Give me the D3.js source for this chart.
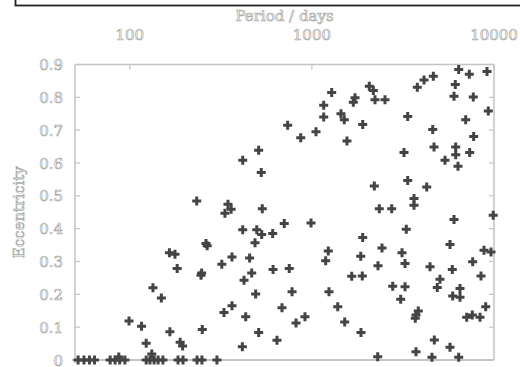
<!DOCTYPE html>
<html>
<head>
<meta charset="utf-8">
<script src="https://cdn.jsdelivr.net/npm/d3@7"></script>
<style>
  html, body { margin: 0; padding: 0; background: #fff; }
  svg { display: block; }
  .lbl { font-family: "DejaVu Serif", serif; font-size: 15px; fill: #fff; stroke: #a9a9a9; stroke-width: 0.7px; }
</style>
</head>
<body>
<script>
// Orbital period (days) and eccentricity of each plotted object
const period = [
  52, 56, 60, 64, 78, 83, 88, 94, 87, 123, 129, 136, 143, 152, 132, 184, 196, 234, 249, 301,
  233, 346, 360, 333, 534, 417, 510, 527, 736, 868, 1053, 1284, 1161, 1161, 1444, 1506, 1558,
  1725, 1688, 1901, 2066, 2174, 2221, 2520, 3358, 3205, 2202, 3358, 4271, 3636, 3636, 2345, 2743,
  3791, 4128, 4643, 4608, 4684, 5381, 6031, 6130, 6400, 7316, 7694, 6161, 6161, 6343, 7353, 6990,
  7733, 9154, 9304,
  705, 989, 417, 498, 530, 609, 487, 165, 177, 262, 266, 182, 248, 246, 320, 364, 455, 467, 424,
  612, 751, 134, 149, 491, 778, 329, 364, 433, 685, 818, 916, 99, 116, 166, 250, 510, 123, 189,
  195, 643, 415,
  3299, 6031, 9900, 1901, 1230, 1190, 1854, 2426, 3125, 3246, 2307, 5733, 8813, 9627, 7638, 4453,
  5902, 8484, 1654, 1891, 5051, 4881, 2778, 3246, 3073, 1241, 6505, 5932, 6505, 1386, 1514, 1860,
  3839, 3729, 3696, 9003, 7600, 7080, 8378, 4702, 5733, 3729, 2298, 4565, 6400
];
const eccentricity = [
  0, 0, 0, 0, 0, 0, 0, 0, 0.009, 0, 0, 0, 0, 0, 0.018, 0, 0, 0, 0, 0,
  0.484, 0.474, 0.459, 0.447, 0.461, 0.608, 0.639, 0.571, 0.715, 0.677, 0.695, 0.815, 0.776, 0.740, 0.750, 0.732, 0.667,
  0.799, 0.785, 0.717, 0.834, 0.821, 0.793, 0.793, 0.742, 0.632, 0.530, 0.547, 0.527, 0.492, 0.471, 0.461, 0.461,
  0.831, 0.853, 0.864, 0.702, 0.649, 0.608, 0.803, 0.839, 0.885, 0.870, 0.801, 0.649, 0.625, 0.590, 0.632, 0.732,
  0.681, 0.879, 0.758,
  0.416, 0.417, 0.397, 0.397, 0.382, 0.385, 0.357, 0.327, 0.322, 0.355, 0.348, 0.279, 0.265, 0.258, 0.292, 0.314, 0.311, 0.265, 0.243,
  0.276, 0.279, 0.220, 0.189, 0.201, 0.208, 0.145, 0.165, 0.132, 0.159, 0.113, 0.132, 0.119, 0.103, 0.086, 0.093, 0.084, 0.051, 0.054,
  0.043, 0.060, 0.040,
  0.398, 0.428, 0.441, 0.373, 0.332, 0.302, 0.316, 0.341, 0.327, 0.294, 0.287, 0.352, 0.334, 0.329, 0.299, 0.284,
  0.276, 0.256, 0.255, 0.256, 0.246, 0.221, 0.225, 0.223, 0.185, 0.208, 0.218, 0.195, 0.191, 0.162, 0.116, 0.084,
  0.149, 0.137, 0.127, 0.162, 0.137, 0.130, 0.130, 0.061, 0.039, 0.025, 0.010, 0.008, 0.008
];
const xTickValues = [100, 1000, 10000];
const xTickLabels = ["100", "1000", "10000"];
const yTickValues = [0, 0.1, 0.2, 0.3, 0.4, 0.5, 0.6, 0.7, 0.8, 0.9];
const yTickLabels = ["0", "0.1", "0.2", "0.3", "0.4", "0.5", "0.6", "0.7", "0.8", "0.9"];
const xTitle = "Period / days";
const yTitle = "Eccentricity";

(function () {
const W = 520, H = 367;
const pL = 75, pR = 494, pT = 64.5, pB = 360;

const svg = d3.select("body").append("svg").attr("width", W).attr("height", H);

const x = d3.scaleLog().domain([50, 10000]).range([pL, pR]);
const y = d3.scaleLinear().domain([0, 0.9]).range([pB, pT]);

// clipped box at the very top
svg.append("rect").attr("x", 15.5).attr("y", -30).attr("width", 700).attr("height", 35.5)
  .attr("fill", "none").attr("stroke", "#222").attr("stroke-width", 1.8);

const axisColor = "#c4c4c4";
// frame
svg.append("line").attr("x1", pL).attr("x2", pL).attr("y1", pT).attr("y2", pB + 3)
  .attr("stroke", axisColor).attr("stroke-width", 1.5);
svg.append("line").attr("x1", pR).attr("x2", pR).attr("y1", pT).attr("y2", pB)
  .attr("stroke", axisColor).attr("stroke-width", 1.5);
svg.append("line").attr("x1", pL).attr("x2", pR).attr("y1", pT).attr("y2", pT)
  .attr("stroke", axisColor).attr("stroke-width", 1.5);
svg.append("line").attr("x1", pL - 3).attr("x2", pR).attr("y1", pB).attr("y2", pB)
  .attr("stroke", axisColor).attr("stroke-width", 2);

// y ticks (inward, both sides)
yTickValues.forEach(v => {
  svg.append("line").attr("x1", pL).attr("x2", pL + 5).attr("y1", y(v)).attr("y2", y(v))
    .attr("stroke", axisColor).attr("stroke-width", 1.2);
  svg.append("line").attr("x1", pR).attr("x2", pR - 5).attr("y1", y(v)).attr("y2", y(v))
    .attr("stroke", axisColor).attr("stroke-width", 1.2);
});
// x ticks at top (inward)
xTickValues.forEach(v => {
  svg.append("line").attr("x1", x(v)).attr("x2", x(v)).attr("y1", pT).attr("y2", pT + 5)
    .attr("stroke", axisColor).attr("stroke-width", 1.2);
});

// tick labels
svg.selectAll(".ylab").data(yTickValues).enter().append("text")
  .attr("class", "lbl").attr("x", 63).attr("y", d => y(d) + 5.5)
  .attr("text-anchor", "end").text((d, i) => yTickLabels[i]);
svg.selectAll(".xlab").data(xTickValues).enter().append("text")
  .attr("class", "lbl").attr("x", d => x(d)).attr("y", 40)
  .attr("text-anchor", "middle").text((d, i) => xTickLabels[i]);

// titles
svg.append("text").attr("class", "lbl").attr("x", (pL + pR) / 2).attr("y", 20.5)
  .attr("text-anchor", "middle").text(xTitle);
svg.append("text").attr("class", "lbl")
  .attr("transform", `translate(23.5,${(pT + pB) / 2}) rotate(-90)`)
  .attr("text-anchor", "middle").text(yTitle);

// points
const sym = d3.symbol().type(d3.symbolCross).size(45);
const data = period.map((p, i) => ({ p, e: eccentricity[i] }));
svg.append("g").selectAll("path").data(data).enter().append("path")
  .attr("transform", d => `translate(${x(d.p)},${y(d.e)})`)
  .attr("d", sym).attr("fill", "#444");
})();
</script>
</body>
</html>
